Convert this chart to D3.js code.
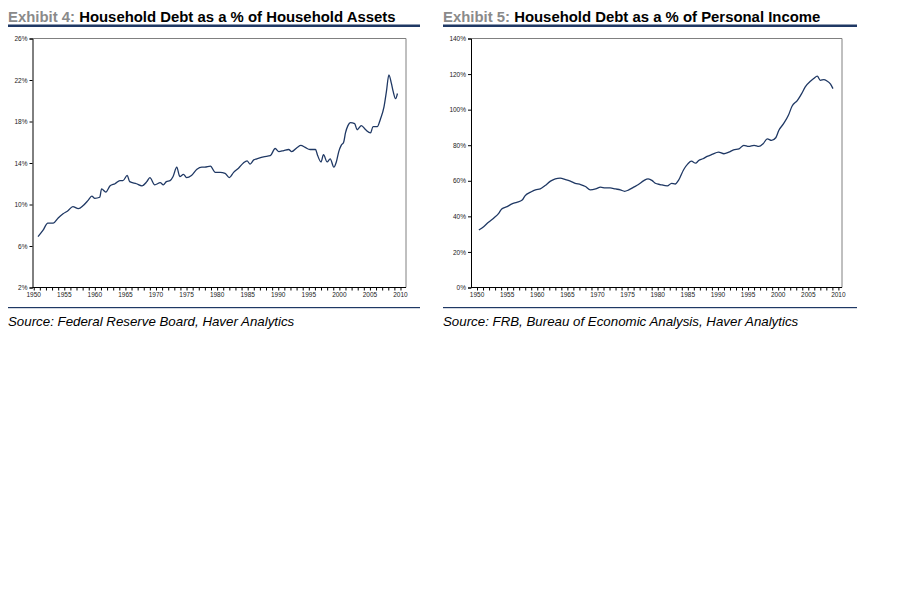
<!DOCTYPE html>
<html>
<head>
<meta charset="utf-8">
<script src="https://cdn.jsdelivr.net/npm/d3@7"></script>
<style>
  body { margin: 0; background: #fff; }
  text { font-family: "Liberation Sans", Arial, sans-serif; }
</style>
</head>
<body>
<div id="chart"></div>
<script>
// Exhibit 4: household debt / household assets (%)
var assetYears = [1950.7, 1951.5, 1952.3, 1953.2, 1954.0, 1954.8, 1955.6, 1956.4, 1957.3, 1958.1,
  1958.9, 1959.5, 1960.0, 1960.8, 1961.1, 1961.8, 1962.5, 1963.3, 1964.1, 1964.6,
  1965.3, 1965.7, 1966.8, 1967.7, 1968.5, 1969.0, 1969.8, 1970.7, 1971.2, 1971.7,
  1972.3, 1972.8, 1973.4, 1973.9, 1974.5, 1975.0, 1975.8, 1976.7, 1977.5, 1978.0,
  1978.9, 1979.7, 1980.5, 1981.3, 1982.0, 1982.7, 1983.5, 1984.3, 1984.9, 1985.4,
  1986.0, 1986.5, 1987.6, 1988.7, 1989.5, 1990.1, 1990.9, 1991.7, 1992.2, 1993.1,
  1993.7, 1994.4, 1995.2, 1996.1, 1996.4, 1997.0, 1997.4, 1998.0, 1998.5, 1999.1,
  1999.5, 1999.9, 2000.3, 2000.7, 2001.0, 2001.4, 2001.8, 2002.5, 2002.9, 2003.6,
  2004.3, 2005.1, 2005.5, 2006.2, 2006.7, 2007.3, 2007.7, 2008.1, 2008.5, 2008.8,
  2009.2, 2009.5];
var assetValues = [6.9, 7.5, 8.2, 8.2, 8.7, 9.1, 9.4, 9.8, 9.6, 9.9,
  10.4, 10.8, 10.6, 10.7, 11.5, 11.2, 11.8, 12.0, 12.3, 12.3,
  12.8, 12.2, 12.0, 11.8, 12.2, 12.6, 11.9, 12.1, 11.9, 12.2,
  12.3, 12.7, 13.6, 12.7, 12.9, 12.6, 12.8, 13.4, 13.6, 13.6,
  13.7, 13.1, 13.1, 13.0, 12.6, 13.1, 13.5, 14.0, 14.2, 13.9,
  14.3, 14.4, 14.6, 14.7, 15.4, 15.1, 15.2, 15.3, 15.1, 15.5,
  15.7, 15.5, 15.3, 15.3, 14.8, 14.1, 14.8, 14.1, 14.4, 13.6,
  14.1, 15.1, 15.7, 16.0, 16.9, 17.6, 17.9, 17.8, 17.2, 17.6,
  17.2, 16.9, 17.5, 17.5, 18.2, 19.4, 20.9, 22.5, 21.7, 20.9,
  20.2, 20.7];
var assetTicks = [2, 6, 10, 14, 18, 22, 26];

// Exhibit 5: household debt / personal income (%)
var incomeYears = [1950.3, 1951.1, 1951.9, 1952.8, 1953.6, 1954.1, 1955.0, 1955.8, 1956.6, 1957.5,
  1958.0, 1958.9, 1959.7, 1960.5, 1961.3, 1962.2, 1963.0, 1963.8, 1964.7, 1965.5,
  1966.3, 1967.2, 1968.0, 1968.8, 1969.7, 1970.5, 1971.3, 1972.1, 1973.0, 1973.8,
  1974.5, 1975.2, 1976.0, 1976.8, 1977.7, 1978.4, 1979.1, 1979.6, 1980.4, 1981.6,
  1982.3, 1982.9, 1983.5, 1984.3, 1985.0, 1985.6, 1986.3, 1986.8, 1987.5, 1988.2,
  1989.0, 1990.1, 1991.0, 1991.8, 1992.6, 1993.5, 1994.3, 1995.1, 1996.0, 1996.8,
  1997.5, 1998.2, 1998.9, 1999.6, 2000.1, 2000.9, 2001.7, 2002.3, 2003.2, 2003.9,
  2004.5, 2005.4, 2005.9, 2006.5, 2007.0, 2007.6, 2008.1, 2008.7, 2009.1];
var incomeValues = [32.3, 34.2, 36.7, 39.1, 41.7, 44.2, 45.5, 47.0, 47.9, 49.2,
  51.7, 53.6, 54.9, 55.4, 57.3, 59.8, 61.1, 61.5, 60.7, 59.8,
  58.6, 57.9, 56.8, 54.9, 55.4, 56.4, 56.0, 56.0, 55.4, 54.9,
  54.1, 54.9, 56.4, 57.9, 60.1, 61.1, 60.1, 58.6, 57.9, 57.1,
  58.6, 58.2, 60.5, 66.2, 69.5, 71.0, 69.9, 71.4, 72.4, 73.7,
  74.8, 76.1, 75.2, 76.1, 77.4, 78.0, 79.9, 79.3, 79.9, 79.3,
  80.8, 83.6, 82.7, 84.2, 88.3, 92.1, 96.8, 101.9, 105.2, 109.0,
  112.8, 116.1, 117.5, 118.8, 116.5, 116.9, 116.1, 114.3, 111.8];
var incomeTicks = [0, 20, 40, 60, 80, 100, 120, 140];

var yearTicks = d3.range(1950, 2011);
var yearLabels = d3.range(1950, 2011, 5);

var navy = "#1f3864";

var svg = d3.select("#chart").append("svg")
    .attr("width", 910)
    .attr("height", 614);

function drawPanel(p) {
    var g = svg.append("g");

    // title with grey exhibit number
    var t = g.append("text")
        .attr("x", p.left)
        .attr("y", 21.5)
        .attr("font-size", "14.9px")
        .attr("font-weight", "bold");
    t.append("tspan").attr("fill", "#8a8a8a").text(p.exhibit + " ");
    t.append("tspan").attr("fill", "#000").text(p.title);

    g.append("rect")
        .attr("x", p.left).attr("y", 24.5)
        .attr("width", p.right - p.left).attr("height", 2.5)
        .attr("fill", navy);

    var x = d3.scaleLinear().domain(p.xDomain).range([p.x0, p.x1]);
    var y = d3.scaleLinear().domain(p.yDomain).range([287.5, 38.5]);

    // grey frame on top and right
    g.append("path")
        .attr("d", "M" + p.x0 + "," + y(p.yDomain[1]) + "H" + p.x1 + "V" + y(p.yDomain[0]))
        .attr("fill", "none")
        .attr("stroke", "#808080")
        .attr("stroke-width", 1);

    var xAxis = g.append("g")
        .attr("transform", "translate(0," + y(p.yDomain[0]) + ")")
        .call(d3.axisBottom(x).tickValues(yearTicks).tickSize(3).tickFormat(""));
    xAxis.select(".domain").attr("d", "M" + p.x0 + ",0H" + p.x1);

    g.selectAll(".xlab")
        .data(yearLabels)
        .enter().append("text")
        .attr("x", function(d) { return x(d); })
        .attr("y", 297)
        .attr("text-anchor", "middle")
        .attr("font-size", "6.5px")
        .attr("fill", "#222")
        .text(function(d) { return d; });

    var yAxis = g.append("g")
        .attr("transform", "translate(" + p.x0 + ",0)")
        .call(d3.axisLeft(y).tickValues(p.yTicks).tickSize(3).tickPadding(2)
            .tickFormat(function(d) { return d + "%"; }));
    yAxis.selectAll("text").attr("font-size", "6.5px").attr("fill", "#222")
        .attr("font-family", "Liberation Sans, Arial, sans-serif");

    var line = d3.line()
        .x(function(d) { return x(d[0]); })
        .y(function(d) { return y(d[1]); })
        .curve(d3.curveMonotoneX);

    g.append("path")
        .datum(d3.zip(p.years, p.values))
        .attr("d", line)
        .attr("fill", "none")
        .attr("stroke", navy)
        .attr("stroke-width", 1.3);

    g.append("rect")
        .attr("x", p.left).attr("y", 307)
        .attr("width", p.right - p.left).attr("height", 1.2)
        .attr("fill", navy);

    g.append("text")
        .attr("x", p.left)
        .attr("y", 326)
        .attr("font-size", "13.3px")
        .attr("font-style", "italic")
        .attr("fill", "#000")
        .text(p.source);
}

drawPanel({
    exhibit: "Exhibit 4:",
    title: "Household Debt as a % of Household Assets",
    source: "Source: Federal Reserve Board, Haver Analytics",
    left: 8, right: 420,
    x0: 32.5, x1: 406,
    xDomain: [1949.8, 2010.9],
    yDomain: [2, 26],
    yTicks: assetTicks,
    years: assetYears, values: assetValues
});

drawPanel({
    exhibit: "Exhibit 5:",
    title: "Household Debt as a % of Personal Income",
    source: "Source: FRB, Bureau of Economic Analysis, Haver Analytics",
    left: 443, right: 857,
    x0: 471, x1: 842,
    xDomain: [1949.0, 2010.6],
    yDomain: [0, 140],
    yTicks: incomeTicks,
    years: incomeYears, values: incomeValues
});
</script>
</body>
</html>
